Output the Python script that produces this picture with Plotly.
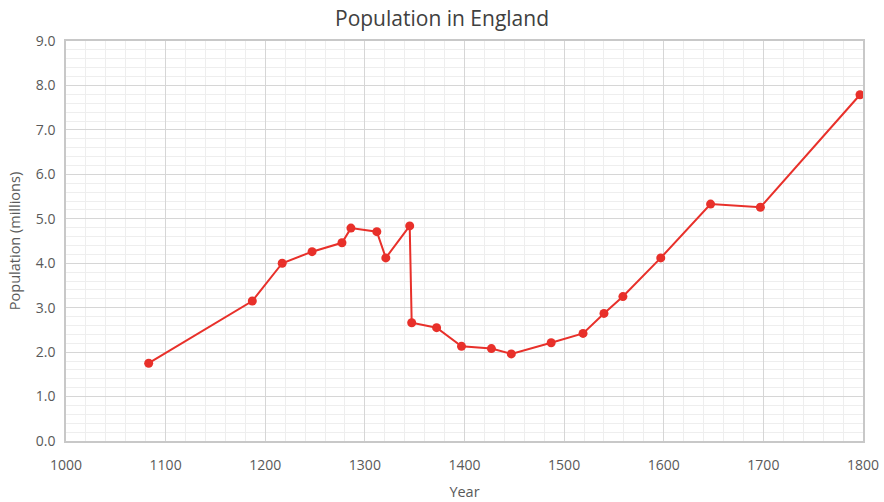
import plotly.graph_objects as go

# Estimated population of England (millions) by year
years = [1083, 1187, 1217, 1247, 1277, 1286, 1312, 1321, 1345, 1347, 1372,
         1397, 1427, 1447, 1487, 1519, 1540, 1559, 1597, 1647, 1697, 1797]
population = [1.75, 3.15, 4.00, 4.26, 4.46, 4.79, 4.71, 4.12, 4.84, 2.66, 2.55,
              2.13, 2.08, 1.96, 2.21, 2.42, 2.87, 3.25, 4.12, 5.33, 5.26, 7.79]

x_ticks = [1000, 1100, 1200, 1300, 1400, 1500, 1600, 1700, 1800]
y_ticks = [0, 1, 2, 3, 4, 5, 6, 7, 8, 9]

red = "#e8302a"
font_family = "Open Sans, Noto Sans, sans-serif"

fig = go.Figure()
fig.add_trace(go.Scatter(
    x=years, y=population, mode="lines+markers",
    line=dict(color=red, width=2),
    marker=dict(color=red, size=9),
    showlegend=False, cliponaxis=False,
))

fig.update_layout(
    width=884, height=502,
    margin=dict(l=66, r=21, t=41, b=61),
    paper_bgcolor="white", plot_bgcolor="white",
    font=dict(family=font_family, color="#595959", size=14),
    title=dict(text="Population in England", x=0.5, xanchor="center",
               y=0.962, yanchor="middle",
               font=dict(size=21, color="#404040", family=font_family)),
)

fig.update_xaxes(
    range=[1000, 1800], tickvals=x_ticks, ticktext=[str(v) for v in x_ticks],
    automargin=False,
    showgrid=True, gridcolor="#d6d6d6", gridwidth=1,
    minor=dict(dtick=20, tick0=1000, showgrid=True, gridcolor="#eeeeee", gridwidth=1),
    showline=True, linecolor="#c8c8c8", linewidth=1.5, mirror=True,
    zeroline=False, ticks="", ticklabelstandoff=10,
    title=dict(text="Year", font=dict(size=14.5, color="#595959"), standoff=14),
    tickfont=dict(size=14, color="#595959"),
)
fig.update_yaxes(
    range=[0, 9], tickvals=y_ticks, ticktext=[f"{v:.1f}" for v in y_ticks],
    automargin=False,
    showgrid=True, gridcolor="#d6d6d6", gridwidth=1,
    minor=dict(dtick=0.2, tick0=0, showgrid=True, gridcolor="#eeeeee", gridwidth=1),
    showline=True, linecolor="#c8c8c8", linewidth=1.5, mirror=True,
    zeroline=False, ticks="", ticklabelstandoff=6,
    title=dict(text="Population (millions)", font=dict(size=14.5, color="#595959"), standoff=12),
    tickfont=dict(size=14, color="#595959"),
)

fig.write_html("out.html")
